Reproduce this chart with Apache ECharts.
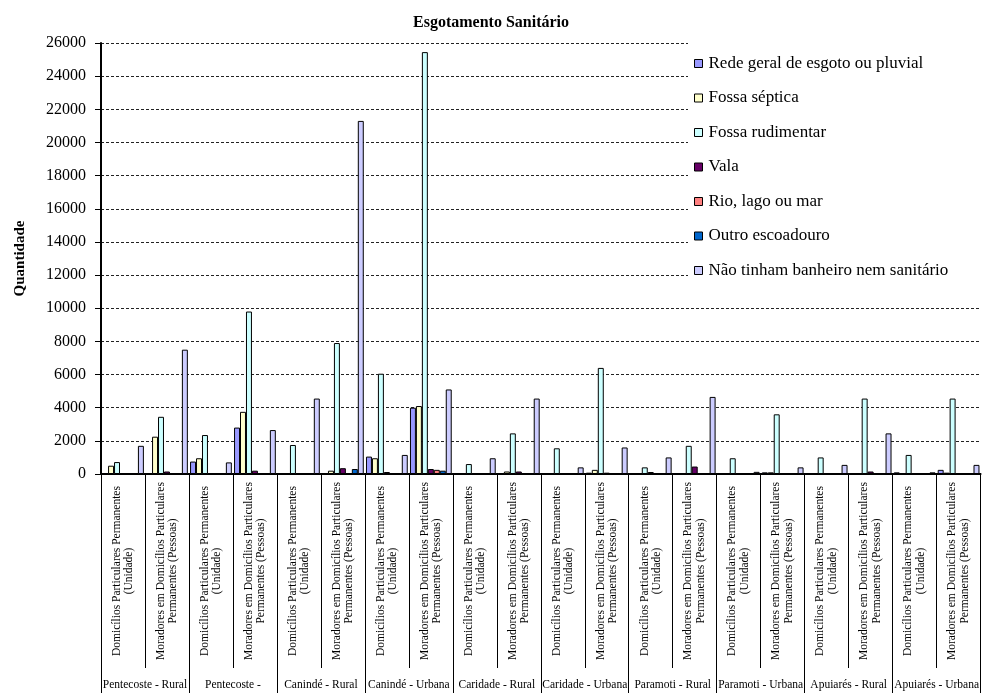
<!DOCTYPE html>
<html>
<head>
<meta charset="utf-8">
<script src="https://cdn.jsdelivr.net/npm/echarts@6/dist/echarts.min.js"></script>
<style>
  html, body { margin: 0; padding: 0; background: #fff; }
  #chart { width: 982px; height: 693px; }
</style>
</head>
<body>
<div id="chart"></div>
<script>
// Municipal groups (outer axis level) and the two measures per group (inner level)
const groups = [
  'Pentecoste - Rural', 'Pentecoste -', 'Canindé - Rural', 'Canindé - Urbana',
  'Caridade - Rural', 'Caridade - Urbana', 'Paramoti - Rural', 'Paramoti - Urbana',
  'Apuiarés - Rural', 'Apuiarés - Urbana'
];
const measures = [
  'Domicílios Particulares Permanentes\n(Unidade)',
  'Moradores em Domicílios Particulares\nPermanentes (Pessoas)'
];
const categories = [];
groups.forEach(function () { measures.forEach(function (m) { categories.push(m); }); });

const yTicks = { min: 0, max: 26000, interval: 2000 };

// Sewage destination counts, one value per category
const redeGeral      = [30, 60, 750, 2800, 50, 30, 1050, 4000, 30, 40, 60, 80, 20, 30, 40, 100, 30, 60, 100, 250];
const fossaSeptica   = [500, 2250, 950, 3750, 40, 200, 950, 4100, 40, 150, 50, 250, 30, 40, 30, 100, 20, 40, 30, 80];
const fossaRudiment  = [720, 3450, 2350, 9800, 1750, 7900, 6050, 25450, 600, 2450, 1550, 6400, 400, 1700, 950, 3600, 1000, 4550, 1150, 4550];
const vala           = [30, 150, 50, 200, 20, 350, 120, 300, 20, 150, 30, 80, 120, 450, 20, 50, 20, 150, 20, 60];
const rioLagoMar     = [10, 20, 20, 50, 10, 30, 20, 250, 10, 30, 10, 20, 10, 30, 10, 20, 10, 20, 10, 20];
const outroEscoad    = [20, 30, 30, 30, 20, 300, 30, 200, 10, 30, 10, 30, 10, 30, 10, 20, 10, 30, 10, 20];
const semBanheiro    = [1700, 7500, 700, 2650, 4550, 21300, 1150, 5100, 950, 4550, 400, 1600, 1000, 4650, 130, 400, 550, 2450, 100, 550];

const seriesDefs = [
  { name: 'Rede geral de esgoto ou pluvial', data: redeGeral, color: '#9999FF' },
  { name: 'Fossa séptica', data: fossaSeptica, color: '#FFFFCC' },
  { name: 'Fossa rudimentar', data: fossaRudiment, color: '#CCFFFF' },
  { name: 'Vala', data: vala, color: '#660066' },
  { name: 'Rio, lago ou mar', data: rioLagoMar, color: '#FF8080' },
  { name: 'Outro escoadouro', data: outroEscoad, color: '#0066CC' },
  { name: 'Não tinham banheiro nem sanitário', data: semBanheiro, color: '#CCCCFF' }
];

const serif = 'Liberation Serif, Times New Roman, serif';

const chart = echarts.init(document.getElementById('chart'), null, { renderer: 'canvas' });
chart.setOption({
  backgroundColor: '#fff',
  animation: false,
  textStyle: { fontFamily: serif, color: '#000' },
  title: {
    text: 'Esgotamento Sanitário',
    left: 'center',
    top: 10,
    textStyle: { fontFamily: serif, fontSize: 16, fontWeight: 'bold', color: '#000' }
  },
  // white panel behind the legend, hiding the gridlines on the right
  graphic: [{
    type: 'rect',
    z: 1,
    shape: { x: 688, y: 40, width: 294, height: 246 },
    style: { fill: '#fff' },
    silent: true
  }],
  legend: {
    orient: 'vertical',
    left: 694,
    top: 55,
    padding: 0,
    icon: 'rect',
    itemWidth: 8,
    itemHeight: 8,
    itemGap: 17.5,
    itemStyle: { borderColor: '#000', borderWidth: 1 },
    textStyle: { fontFamily: serif, fontSize: 17, color: '#000', padding: [0, 0, 0, 1], lineHeight: 14 },
    data: seriesDefs.map(function (s) { return s.name; })
  },
  grid: { left: 101, right: 0, top: 43, bottom: 219, containLabel: false },
  xAxis: [
    {
      type: 'category',
      data: categories,
      position: 'bottom',
      axisLine: { show: true, lineStyle: { color: '#000', width: 2 } },
      axisTick: { show: true, interval: 0, alignWithLabel: false, length: 194, lineStyle: { color: '#000', width: 1 } },
      axisLabel: {
        interval: 0,
        rotate: 90,
        align: 'center',
        verticalAlign: 'middle',
        margin: 97,
        fontFamily: serif,
        fontSize: 11.5,
        lineHeight: 12.5,
        color: '#000'
      },
      splitLine: { show: false }
    },
    {
      type: 'category',
      data: groups,
      position: 'bottom',
      offset: 0,
      axisLine: { show: false },
      axisTick: { show: true, interval: 0, alignWithLabel: false, length: 222, lineStyle: { color: '#000', width: 1 } },
      axisLabel: { interval: 0, margin: 205, fontFamily: serif, fontSize: 11.5, color: '#000' },
      splitLine: { show: false }
    }
  ],
  yAxis: {
    type: 'value',
    min: yTicks.min,
    max: yTicks.max,
    interval: yTicks.interval,
    name: 'Quantidade',
    nameLocation: 'middle',
    nameRotate: 90,
    nameGap: 73,
    nameTextStyle: { fontFamily: serif, fontSize: 15, fontWeight: 'bold', color: '#000' },
    axisLine: { show: true, lineStyle: { color: '#000', width: 2 } },
    axisTick: { show: true, length: 6, lineStyle: { color: '#000' } },
    axisLabel: {
      margin: 15, fontFamily: serif, fontSize: 16, color: '#000',
      formatter: function (v) { return String(v); }
    },
    splitLine: { show: true, lineStyle: { color: '#222', width: 1, type: [3, 2] } }
  },
  series: seriesDefs.map(function (s) {
    return {
      name: s.name,
      type: 'bar',
      xAxisIndex: 0,
      data: s.data,
      barGap: '0%',
      barCategoryGap: '5%',
      z: 2,
      itemStyle: { color: s.color, borderColor: '#000', borderWidth: 1 }
    };
  })
});
</script>
</body>
</html>
